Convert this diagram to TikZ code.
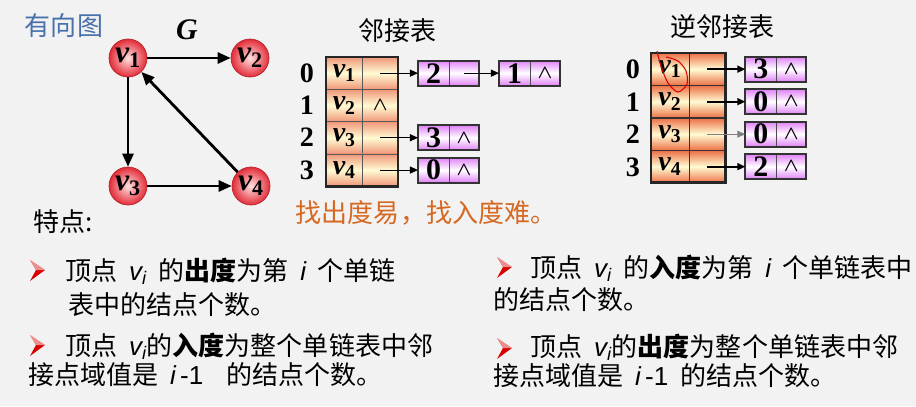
\documentclass[tikz,border=0pt]{standalone}
\usepackage{fontspec}
\setmainfont{Liberation Serif}
\newfontfamily\cjk{Noto Sans CJK SC}
\newfontfamily\arial{Liberation Sans}
\usetikzlibrary{arrows.meta, positioning, calc}
\definecolor{fondo}{RGB}{242,242,242}
\definecolor{azul}{RGB}{72,112,172}
\definecolor{naranja}{RGB}{214,104,34}
\definecolor{rojo}{RGB}{226,44,56}
\definecolor{salmon}{RGB}{240,150,120}
\definecolor{crema}{RGB}{255,252,212}
\definecolor{coral}{RGB}{236,112,70}
\definecolor{lila}{RGB}{224,130,246}

\newcommand\vv[1]{{\bfseries\itshape v}\textsubscript{\bfseries #1}}
\newcommand\vsub{{\arial\itshape v\textsubscript{i}}}
\newcommand\isub{{\arial\itshape i}}
\newcommand\nulo{\raisebox{-2pt}{\fontsize{11}{11}\selectfont\boldmath$\wedge$}}
\newcommand\sep{\hspace{0.45em}}

\begin{document}
\begin{tikzpicture}[
  x=0.02cm, y=-0.02cm,
  vert/.style={
    circle, minimum size=0.76cm, inner sep=0pt,
    draw=rojo!80!black, shading=radial,
    inner color=red!12, outer color=rojo,
    font=\fontsize{18}{18}\selectfont
  },
  arc/.style={-{Triangle[length=0.26cm, width=0.22cm]}, line width=1.6pt},
  celda/.style={
    rectangle, draw=gray!70!black, line width=0.4pt,
    outer sep=0pt, inner sep=0pt, minimum height=0.646cm,
    top color=salmon, bottom color=salmon, middle color=crema,
    font=\fontsize{16}{16}\selectfont
  },
  celdainv/.style={celda, draw=black!80,
    top color=coral, bottom color=coral, middle color=crema},
  dato/.style={
    rectangle, draw=gray!60!black, line width=0.4pt,
    outer sep=0pt, inner sep=0pt, minimum height=0.5cm,
    top color=lila, bottom color=lila, middle color=white,
    font=\fontsize{17}{17}\selectfont\bfseries
  },
  marco/.style={draw=black!85, line width=1.6pt},
  marcobox/.style={draw=black!80, line width=1.1pt},
  ptr/.style={-{Triangle[length=0.16cm, width=0.14cm]}, line width=0.6pt},
  indice/.style={font=\fontsize{16}{16}\selectfont\bfseries},
  titulo/.style={font=\cjk\fontsize{14.8}{16}\selectfont},
  txt/.style={font=\cjk\fontsize{14.8}{17}\selectfont, anchor=west, inner sep=0pt},
  bull/.pic={
    \fill[red!85!black] (-15,-10) -- (0,0) -- (-15,11) -- (-9,0) -- cycle;
    \fill[white, opacity=.55] (-15,-10) -- (0,0) -- (-9,0) -- cycle;
  }
]

% ── FONDO ────────────────────────────────────────────────────
\fill[fondo] (0,0) rectangle (916,406);
\useasboundingbox (0,0) rectangle (916,406);

% ── GRAFO ────────────────────────────────────────────────────
\node[titulo, text=azul] (dirg) at (64,26) {有向图};
\node[font=\fontsize{17}{17}\selectfont\bfseries\itshape] (g) at (187,30) {G};

\node[vert] (v1) at (128,58)  {\vv1};
\node[vert] (v2) at (250,58)  {\vv2};
\node[vert] (v3) at (128,186) {\vv3};
\node[vert] (v4) at (251,186) {\vv4};

\draw[arc] (v1) -- (v2);
\draw[arc] (v1) -- (v3);
\draw[arc] (v3) -- (v4);
\draw[arc] (v4) -- (v1);

% ── LISTA DE ADYACENCIA ──────────────────────────────────────
\node[titulo] (adjt) at (397,31) {邻接表};

\foreach \r/\pt in {0/,1/\nulo,2/,3/}{
  \pgfmathtruncatemacro\n{\r+1}
  \node[celda, anchor=north west, minimum width=0.734cm] (a\r) at (326,57+32.3*\r) {\vv{\n}};
  \node[celda, right=0pt of a\r, minimum width=0.706cm] (ap\r) {\pt};
  \node[indice] (al\r) at (307,73+32.3*\r) {\r};
}
\draw[marco] (a0.north west) rectangle (ap3.south east);

% nodos de las listas
\node[dato, right=0.4cm of ap0, minimum width=0.62cm] (d00) {2};
\node[dato, right=0pt of d00, minimum width=0.6cm] (p00) {};
\node[dato, right=0.4cm of p00, minimum width=0.62cm] (d01) {1};
\node[dato, right=0pt of d01, minimum width=0.6cm] (p01) {\nulo};
\node[dato, right=0.4cm of ap2, minimum width=0.62cm] (d20) {3};
\node[dato, right=0pt of d20, minimum width=0.6cm] (p20) {\nulo};
\node[dato, right=0.4cm of ap3, minimum width=0.62cm] (d30) {0};
\node[dato, right=0pt of d30, minimum width=0.6cm] (p30) {\nulo};
\foreach \b in {00,01,20,30}
  \draw[marcobox] (d\b.north west) rectangle (p\b.south east);

\draw[ptr] (ap0.center) -- (d00.west);
\draw[ptr] (p00.center) -- (d01.west);
\draw[ptr] (ap2.center) -- (d20.west);
\draw[ptr] (ap3.center) -- (d30.west);

\node[font=\cjk\fontsize{14.8}{16}\selectfont, text=naranja] (nota) at (426,213) {找出度易，找入度难。};

% ── LISTA INVERSA ────────────────────────────────────────────
\node[titulo] (invt) at (722,27) {逆邻接表};

\foreach \r/\d in {0/3,1/0,2/0,3/2}{
  \pgfmathtruncatemacro\n{\r+1}
  \node[celdainv, anchor=north west, minimum width=0.76cm] (b\r) at (651,53+32.5*\r) {\vv{\n}};
  \node[celdainv, right=0pt of b\r, minimum width=0.726cm] (bp\r) {};
  \node[indice] (bl\r) at (633,69.5+32.5*\r) {\r};
  \node[dato, right=0.4cm of bp\r, minimum width=0.62cm] (e\r) {\d};
  \node[dato, right=0pt of e\r, minimum width=0.6cm] (q\r) {\nulo};
  \draw[marcobox] (e\r.north west) rectangle (q\r.south east);
}
\draw[marco] (b0.north west) rectangle (bp3.south east);

\draw[ptr, line width=1pt] (bp0.center) -- (e0.west);
\draw[ptr, line width=1pt] (bp1.center) -- (e1.west);
\draw[ptr, draw=gray] (bp2.center) -- (e2.west);
\draw[ptr, line width=1pt] (bp3.center) -- (e3.west);

% marca a mano
\draw[red!85!black, line width=0.6pt] plot[smooth] coordinates
  {(657,51) (661,66) (668,83) (678,92) (687,84) (686,71) (678,61) (666,57)};

% ── TEXTO ────────────────────────────────────────────────────
\node[font=\cjk\fontsize{14.8}{16}\selectfont] (tedian) at (63,222) {特点:};

\pic at (45,270) {bull};
\node[txt] (t1) at (65,271) {顶点\sep\vsub\sep 的{\bfseries 出度}为第\sep\isub\sep 个单链};
\node[txt] (t1b) at (68,305) {表中的结点个数。};
\pic at (45,345) {bull};
\node[txt] (t2) at (65,346) {顶点\sep\vsub 的{\bfseries 入度}为整个单链表中邻};
\node[txt] (t2b) at (28,375) {接点域值是\sep\isub\,{\arial -1}\sep\sep 的结点个数。};

\pic at (512,267) {bull};
\node[txt] (t3) at (530,268) {顶点\sep\vsub\sep 的{\bfseries 入度}为第\sep\isub\sep 个单链表中};
\node[txt] (t3b) at (493,300) {的结点个数。};
\pic at (512,348) {bull};
\node[txt] (t4) at (530,347) {顶点\sep\vsub 的{\bfseries 出度}为整个单链表中邻};
\node[txt] (t4b) at (493,376) {接点域值是\sep\isub\,{\arial -1}\sep 的结点个数。};

\end{tikzpicture}
\end{document}
